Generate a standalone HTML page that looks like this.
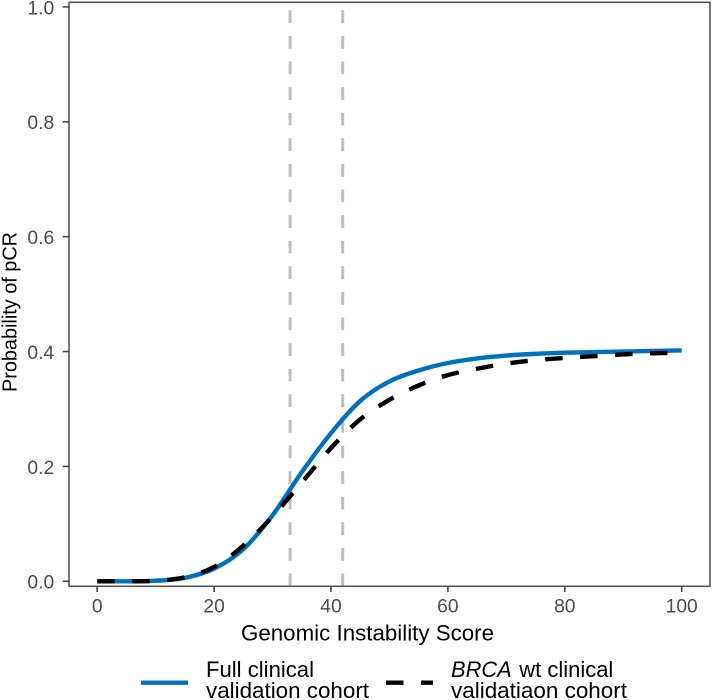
<!DOCTYPE html>
<html lang="en">
<head>
<meta charset="utf-8">
<title>Probability of pCR by Genomic Instability Score</title>
<style>
html,body{margin:0;padding:0;background:#fff;width:712px;height:700px;overflow:hidden}
svg{display:block;font-family:"Liberation Sans",Arial,sans-serif}
</style>
</head>
<body>
<svg id="chart" xmlns="http://www.w3.org/2000/svg" width="712" height="700" viewBox="0 0 712 700">
  <rect x="0" y="0" width="712" height="700" fill="#fff"/>
  <g id="marks"></g>
  <rect x="69" y="2.3" width="641" height="584" fill="none" stroke="#555" stroke-width="1.6"/>
  <g id="axes"></g>
  <text x="241" y="640.7" font-size="22" textLength="253" lengthAdjust="spacingAndGlyphs" fill="#000">Genomic Instability Score</text>
  <text transform="translate(16.7,392) rotate(-90)" font-size="20.5" textLength="160" lengthAdjust="spacingAndGlyphs" fill="#000">Probability of pCR</text>
  <g>
    <line x1="141" y1="682.7" x2="188" y2="682.7" stroke="#0070c0" stroke-width="4.4"/>
    <text x="206" y="677" font-size="22" textLength="108" lengthAdjust="spacingAndGlyphs" fill="#000">Full clinical</text>
    <text x="206" y="698" font-size="22" textLength="163" lengthAdjust="spacingAndGlyphs" fill="#000">validation cohort</text>
    <line x1="386" y1="682.7" x2="433" y2="682.7" stroke="#000" stroke-width="4.4" stroke-dasharray="17.5 17.5"/>
    <text x="451" y="677" font-size="22" font-style="italic" textLength="60.7" lengthAdjust="spacingAndGlyphs" fill="#000">BRCA</text>
    <text x="519.3" y="677" font-size="22" textLength="94" lengthAdjust="spacingAndGlyphs" fill="#000">wt clinical</text>
    <text x="451" y="698" font-size="22" textLength="176" lengthAdjust="spacingAndGlyphs" fill="#000">validatiaon cohort</text>
  </g>
</svg>
<script>
var scoreValues = [0, 5, 10, 15, 20, 25, 30, 35, 40, 45, 50, 55, 60, 65, 70, 75, 80, 85, 90, 95, 100];
var fullCohortValues = [0, 0, 0.001, 0.006, 0.022, 0.056, 0.115, 0.19, 0.258, 0.314, 0.348, 0.367, 0.38, 0.388, 0.393, 0.396, 0.398, 0.399, 0.4, 0.401, 0.402];
var brcaCohortValues = [0, 0, 0.001, 0.007, 0.025, 0.062, 0.113, 0.172, 0.232, 0.282, 0.316, 0.341, 0.359, 0.37, 0.379, 0.385, 0.389, 0.392, 0.395, 0.397, 0.398];
var thresholdValues = [33, 42];
var xTickValues = [0, 20, 40, 60, 80, 100];
var yTickValues = [0, 0.2, 0.4, 0.6, 0.8, 1];

var NS = 'http://www.w3.org/2000/svg';
function xScale(v) { return 97.2 + v * 5.845; }
function yScale(v) { return 581.3 - v * 574.4; }

function smoothPath(xs, ys) {
  var pts = xs.map(function (x, i) { return [xScale(x), yScale(ys[i])]; });
  var d = 'M' + pts[0][0].toFixed(2) + ' ' + pts[0][1].toFixed(2);
  for (var i = 0; i < pts.length - 1; i++) {
    var p0 = pts[Math.max(0, i - 1)], p1 = pts[i], p2 = pts[i + 1], p3 = pts[Math.min(pts.length - 1, i + 2)];
    var h = p2[0] - p1[0];
    var m1 = (p2[1] - p0[1]) / ((p2[0] - p0[0]) || 1);
    var m2 = (p3[1] - p1[1]) / ((p3[0] - p1[0]) || 1);
    d += 'C' + (p1[0] + h / 3).toFixed(2) + ' ' + (p1[1] + m1 * h / 3).toFixed(2) + ' ' +
         (p2[0] - h / 3).toFixed(2) + ' ' + (p2[1] - m2 * h / 3).toFixed(2) + ' ' +
         p2[0].toFixed(2) + ' ' + p2[1].toFixed(2);
  }
  return d;
}

var marks = document.getElementById('marks');
var axes = document.getElementById('axes');

thresholdValues.forEach(function (v) {
  var line = document.createElementNS(NS, 'line');
  
  
  line.setAttribute('x1', xScale(v));
  line.setAttribute('x2', xScale(v));
  line.setAttribute('y1', 586.3);
  line.setAttribute('y2', 2.3);
  line.setAttribute('stroke', '#bebebe');
  line.setAttribute('stroke-width', 3);
  line.setAttribute('stroke-dasharray', '12.8 12.8');
  marks.appendChild(line);
});

var fullLine = document.createElementNS(NS, 'path');


fullLine.setAttribute('d', smoothPath(scoreValues, fullCohortValues));
fullLine.setAttribute('fill', 'none');
fullLine.setAttribute('stroke', '#0070c0');
fullLine.setAttribute('stroke-width', 4.4);
marks.appendChild(fullLine);

var brcaLine = document.createElementNS(NS, 'path');


brcaLine.setAttribute('d', smoothPath(scoreValues, brcaCohortValues));
brcaLine.setAttribute('fill', 'none');
brcaLine.setAttribute('stroke', '#000');
brcaLine.setAttribute('stroke-width', 4.4);
brcaLine.setAttribute('stroke-dasharray', '17.5 17.5');
marks.appendChild(brcaLine);

xTickValues.forEach(function (v) {
  var tick = document.createElementNS(NS, 'line');
  
  
  tick.setAttribute('x1', xScale(v));
  tick.setAttribute('x2', xScale(v));
  tick.setAttribute('y1', 586.3);
  tick.setAttribute('y2', 592);
  tick.setAttribute('stroke', '#444');
  tick.setAttribute('stroke-width', 1.6);
  axes.appendChild(tick);
  var label = document.createElementNS(NS, 'text');
  
  
  label.setAttribute('x', xScale(v));
  label.setAttribute('y', 612.7);
  label.setAttribute('text-anchor', 'middle');
  label.setAttribute('font-size', 19);
  label.setAttribute('fill', '#4d4d4d');
  label.setAttribute('textLength', String(v).length * 10.7);
  label.setAttribute('lengthAdjust', 'spacingAndGlyphs');
  label.textContent = String(v);
  axes.appendChild(label);
});

yTickValues.forEach(function (v) {
  var tick = document.createElementNS(NS, 'line');
  
  
  tick.setAttribute('x1', 62.7);
  tick.setAttribute('x2', 69);
  tick.setAttribute('y1', yScale(v));
  tick.setAttribute('y2', yScale(v));
  tick.setAttribute('stroke', '#444');
  tick.setAttribute('stroke-width', 1.6);
  axes.appendChild(tick);
  var label = document.createElementNS(NS, 'text');
  
  
  label.setAttribute('x', 54.2);
  label.setAttribute('y', yScale(v) + 7.4);
  label.setAttribute('text-anchor', 'end');
  label.setAttribute('font-size', 19);
  label.setAttribute('fill', '#4d4d4d');
  label.setAttribute('textLength', 26.8);
  label.setAttribute('lengthAdjust', 'spacingAndGlyphs');
  label.textContent = v.toFixed(1);
  axes.appendChild(label);
});
</script>
</body>
</html>
